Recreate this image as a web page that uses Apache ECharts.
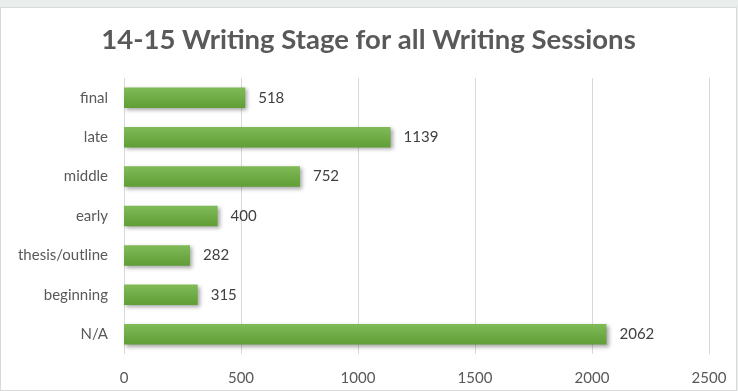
<!DOCTYPE html>
<html>
<head>
<meta charset="utf-8">
<script src="https://cdn.jsdelivr.net/npm/echarts@6/dist/echarts.min.js"></script>
<style>
  html, body { margin: 0; padding: 0; background: #e9eeed; }
  #chart { position: absolute; left: 0; top: 7px; width: 737px; height: 384px; background: #ffffff; border: 1px solid #d9d9d9; box-sizing: border-box; }
</style>
</head>
<body>
<div id="chart"></div>
<script>
// Writing stage categories, listed bottom to top as drawn on the axis
const categories = ['N/A', 'beginning', 'thesis/outline', 'early', 'middle', 'late', 'final'];
const sessionCounts = [2062, 315, 282, 400, 752, 1139, 518];
const axisTicks = [0, 500, 1000, 1500, 2000, 2500];

const chart = echarts.init(document.getElementById('chart'));
const font = 'Lato, "Open Sans", sans-serif';

chart.setOption({
  animation: false,
  title: {
    text: '14-15 Writing Stage for all Writing Sessions',
    left: 'center',
    top: 13,
    textStyle: { fontFamily: font, fontSize: 27.5, fontWeight: 'bold', color: '#595959' }
  },
  grid: { left: 123, right: 27, top: 70, bottom: 36, containLabel: false },
  xAxis: {
    type: 'value',
    min: axisTicks[0],
    max: axisTicks[axisTicks.length - 1],
    interval: axisTicks[1] - axisTicks[0],
    axisLine: { show: false },
    axisTick: { show: false },
    splitLine: { lineStyle: { color: '#d9d9d9', width: 1 } },
    axisLabel: { fontFamily: font, fontSize: 15, color: '#595959', margin: 17, formatter: v => String(v) }
  },
  yAxis: {
    type: 'category',
    data: categories,
    axisLine: { show: false },
    axisTick: { show: false },
    axisLabel: { fontFamily: font, fontSize: 15, color: '#595959', margin: 16 }
  },
  series: [{
    type: 'bar',
    data: sessionCounts,
    barWidth: '52%',
    itemStyle: {
      color: new echarts.graphic.LinearGradient(0, 0, 0, 1, [
        { offset: 0, color: '#80bb58' },
        { offset: 1, color: '#5f9d35' }
      ]),
      shadowColor: 'rgba(0,0,0,0.35)',
      shadowBlur: 4,
      shadowOffsetX: 2,
      shadowOffsetY: 2
    },
    label: {
      show: true,
      position: 'right',
      distance: 13,
      fontFamily: font,
      fontSize: 15,
      color: '#404040',
      formatter: p => String(p.value)
    }
  }]
});
</script>
</body>
</html>
